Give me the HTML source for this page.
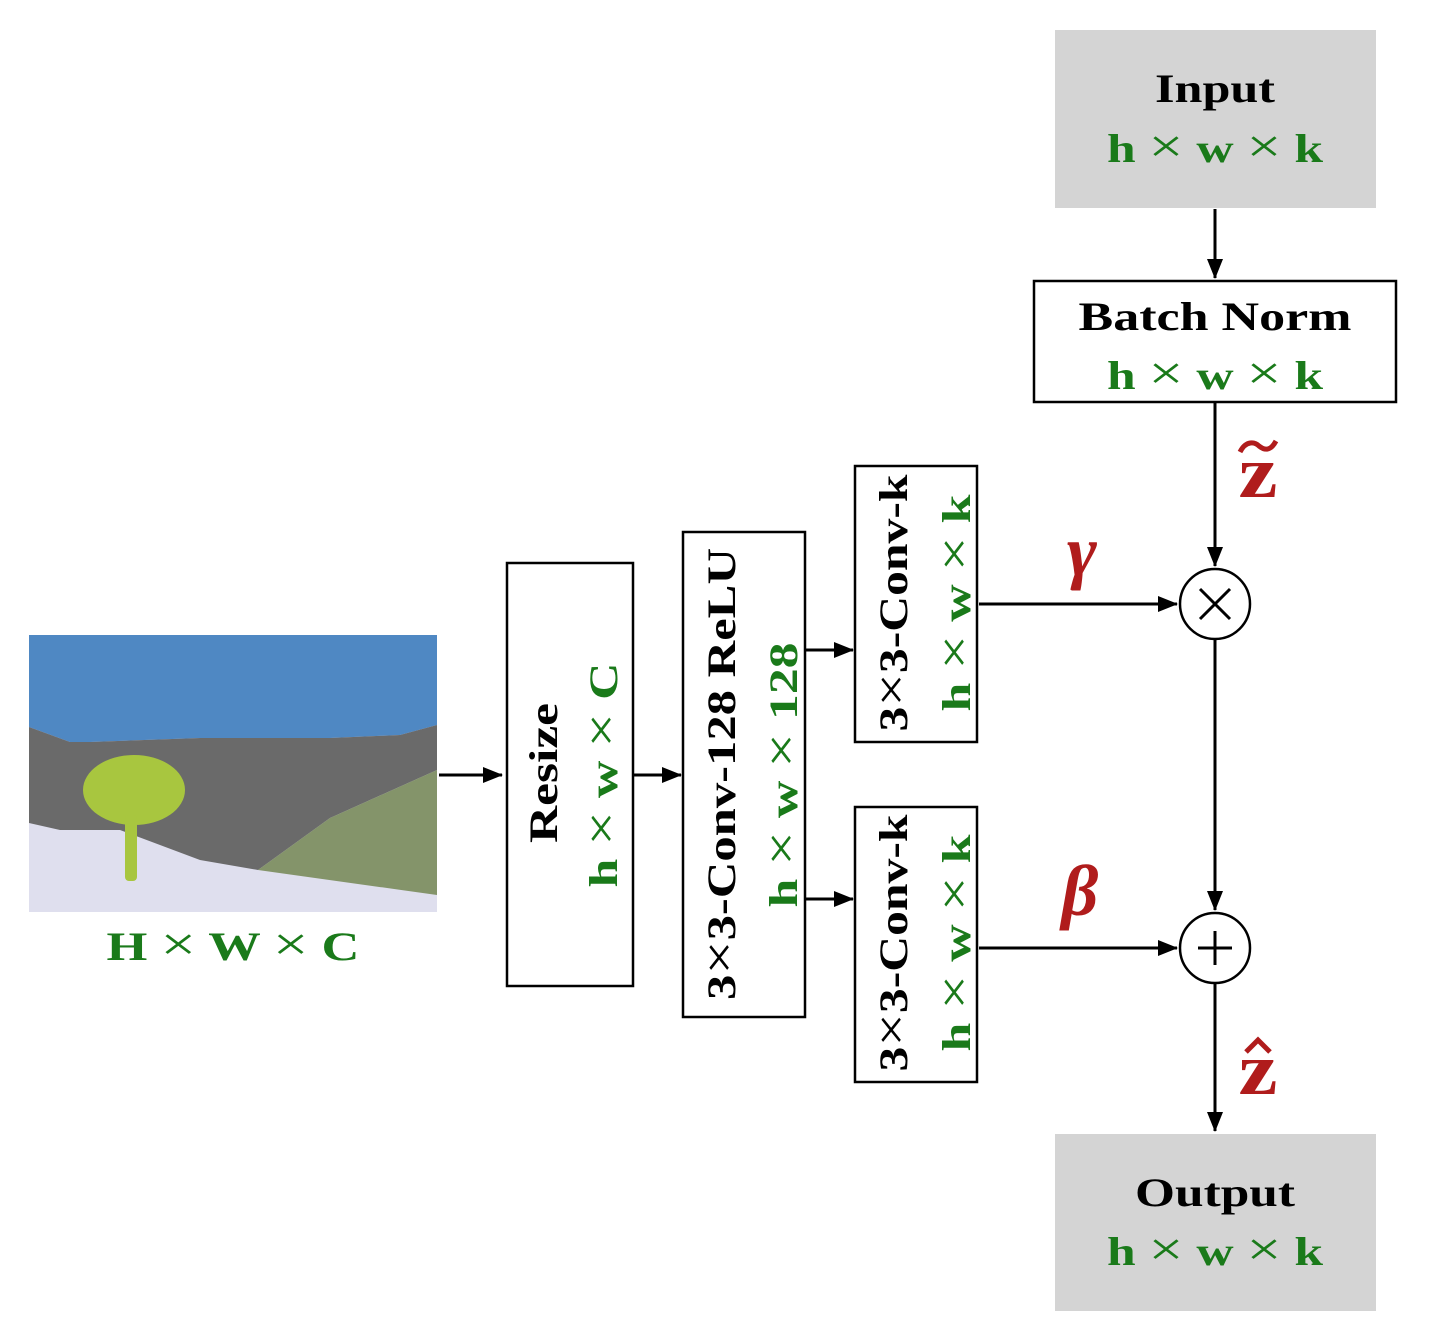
<!DOCTYPE html>
<html><head><meta charset="utf-8"><style>
html,body{margin:0;padding:0;background:#fff;}
svg{display:block;}
text{font-family:"Liberation Serif","DejaVu Serif",serif;font-weight:bold;}
.g{fill:#1a7a1a;}
.r{fill:#b01c1c;}
.x{font-weight:normal;font-size:48px;}
</style></head><body>
<svg width="1430" height="1332" viewBox="0 0 1430 1332" xmlns="http://www.w3.org/2000/svg">
<defs>
<marker id="b" markerWidth="20" markerHeight="16" refX="19" refY="8" orient="auto" markerUnits="userSpaceOnUse">
<path d="M0,0 L20,8 L0,16 z" fill="#000"/></marker>
</defs>
<!-- image -->
<rect x="29" y="635" width="408" height="277" fill="#dfdfee"/>
<polygon points="29,635 437,635 437,725 400,735 330,738 200,738 90,742 70,742 29,727" fill="#4f88c3"/>
<polygon points="29,727 70,742 90,742 200,738 330,738 400,735 437,725 437,770 330,818 258,870 200,860 120,830 60,830 29,823" fill="#6a6a6a"/>
<polygon points="258,870 330,818 437,770 437,895" fill="#84946a"/>
<ellipse cx="134" cy="790" rx="51" ry="35" fill="#a8c63f"/>
<rect x="125" y="815" width="12" height="66" rx="4" fill="#a8c63f"/>
<text x="233" y="960" font-size="40" class="g" text-anchor="middle" textLength="253" lengthAdjust="spacingAndGlyphs">H <tspan class="x">×</tspan> W <tspan class="x">×</tspan> C</text>
<!-- arrows -->
<g stroke="#000" stroke-width="3" fill="none">
<line x1="439" y1="775" x2="502" y2="775" marker-end="url(#b)"/>
<line x1="634" y1="775" x2="681" y2="775" marker-end="url(#b)"/>
<line x1="806" y1="650" x2="853" y2="650" marker-end="url(#b)"/>
<line x1="806" y1="899" x2="853" y2="899" marker-end="url(#b)"/>
<line x1="979" y1="604" x2="1177" y2="604" marker-end="url(#b)"/>
<line x1="979" y1="948" x2="1177" y2="948" marker-end="url(#b)"/>
<line x1="1215" y1="209" x2="1215" y2="278" marker-end="url(#b)"/>
<line x1="1215" y1="403" x2="1215" y2="566" marker-end="url(#b)"/>
<line x1="1215" y1="639" x2="1215" y2="910" marker-end="url(#b)"/>
<line x1="1215" y1="983" x2="1215" y2="1131" marker-end="url(#b)"/>
</g>
<!-- boxes -->
<g stroke="#000" stroke-width="2.5" fill="#fff">
<rect x="507" y="563" width="126" height="423"/>
<rect x="683" y="532" width="122" height="485"/>
<rect x="855" y="466" width="122" height="276"/>
<rect x="855" y="807" width="122" height="275"/>
<rect x="1034" y="281" width="362" height="121"/>
<circle cx="1215" cy="604" r="35"/>
<circle cx="1215" cy="948" r="35"/>
</g>
<rect x="1055" y="30" width="321" height="178" fill="#d4d4d4"/>
<rect x="1055" y="1134" width="321" height="177" fill="#d4d4d4"/>
<g stroke="#000" stroke-width="3">
<line x1="1200" y1="589" x2="1230" y2="619"/><line x1="1230" y1="589" x2="1200" y2="619"/>
<line x1="1215" y1="931" x2="1215" y2="965"/><line x1="1198" y1="948" x2="1232" y2="948"/>
</g>
<!-- rotated texts -->
<text transform="translate(557,773) rotate(-90)" font-size="40" text-anchor="middle" textLength="140" lengthAdjust="spacingAndGlyphs">Resize</text>
<text transform="translate(617,775) rotate(-90)" font-size="40" class="g" text-anchor="middle" textLength="225" lengthAdjust="spacingAndGlyphs">h <tspan class="x">×</tspan> w <tspan class="x">×</tspan> C</text>
<text transform="translate(735,774) rotate(-90)" font-size="40" text-anchor="middle" textLength="452" lengthAdjust="spacingAndGlyphs">3<tspan class="x">×</tspan>3-Conv-128 ReLU</text>
<text transform="translate(797,775) rotate(-90)" font-size="40" class="g" text-anchor="middle" textLength="265" lengthAdjust="spacingAndGlyphs">h <tspan class="x">×</tspan> w <tspan class="x">×</tspan> 128</text>
<text transform="translate(907,603) rotate(-90)" font-size="40" text-anchor="middle" textLength="257" lengthAdjust="spacingAndGlyphs">3<tspan class="x">×</tspan>3-Conv-k</text>
<text transform="translate(970,603) rotate(-90)" font-size="40" class="g" text-anchor="middle" textLength="217" lengthAdjust="spacingAndGlyphs">h <tspan class="x">×</tspan> w <tspan class="x">×</tspan> k</text>
<text transform="translate(907,943) rotate(-90)" font-size="40" text-anchor="middle" textLength="257" lengthAdjust="spacingAndGlyphs">3<tspan class="x">×</tspan>3-Conv-k</text>
<text transform="translate(970,943) rotate(-90)" font-size="40" class="g" text-anchor="middle" textLength="217" lengthAdjust="spacingAndGlyphs">h <tspan class="x">×</tspan> w <tspan class="x">×</tspan> k</text>
<!-- horizontal texts -->
<text x="1215" y="102" font-size="40" text-anchor="middle" textLength="120" lengthAdjust="spacingAndGlyphs">Input</text>
<text x="1215" y="162" font-size="40" class="g" text-anchor="middle" textLength="216" lengthAdjust="spacingAndGlyphs">h <tspan class="x">×</tspan> w <tspan class="x">×</tspan> k</text>
<text x="1215" y="330" font-size="40" text-anchor="middle" textLength="273" lengthAdjust="spacingAndGlyphs">Batch Norm</text>
<text x="1215" y="389" font-size="40" class="g" text-anchor="middle" textLength="216" lengthAdjust="spacingAndGlyphs">h <tspan class="x">×</tspan> w <tspan class="x">×</tspan> k</text>
<text x="1215" y="1206" font-size="40" text-anchor="middle" textLength="160" lengthAdjust="spacingAndGlyphs">Output</text>
<text x="1215" y="1265" font-size="40" class="g" text-anchor="middle" textLength="216" lengthAdjust="spacingAndGlyphs">h <tspan class="x">×</tspan> w <tspan class="x">×</tspan> k</text>
<!-- red labels -->
<text x="1258" y="497" font-size="74" class="r" text-anchor="middle" textLength="39" lengthAdjust="spacingAndGlyphs">z</text>
<path d="M1240,452 C1246,440 1255,442 1259,446 C1264,450 1270,452 1276,441" stroke="#b01c1c" stroke-width="5" fill="none"/>
<text x="1258" y="1094" font-size="74" class="r" text-anchor="middle" textLength="39" lengthAdjust="spacingAndGlyphs">z</text>
<path d="M1246,1052 L1258,1040 L1270,1052" stroke="#b01c1c" stroke-width="5" fill="none"/>
<text x="1082" y="575" font-size="72" class="r" font-style="italic" text-anchor="middle">γ</text>
<text x="1080" y="915" font-size="72" class="r" font-style="italic" text-anchor="middle">β</text>
</svg>
</body></html>
